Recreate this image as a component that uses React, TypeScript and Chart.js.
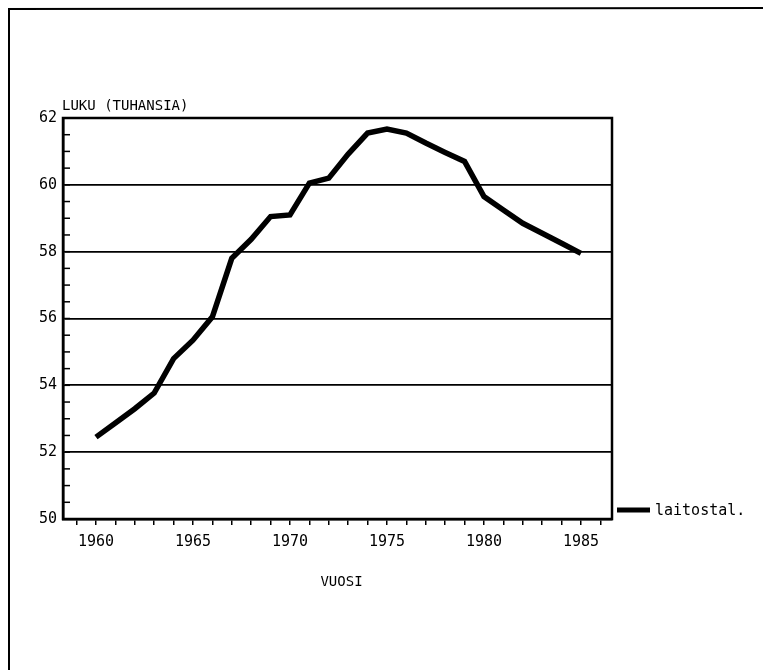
import React, { useEffect, useRef } from "react";
import { Chart, registerables } from "chart.js";

Chart.register(...registerables);

const years = [
  1960, 1961, 1962, 1963, 1964, 1965, 1966, 1967, 1968, 1969, 1970, 1971, 1972,
  1973, 1974, 1975, 1976, 1977, 1978, 1979, 1980, 1981, 1982, 1983, 1984, 1985,
];
const laitostal = [
  52.45, 52.87, 53.3, 53.77, 54.8, 55.35, 56.05, 57.8, 58.37, 59.05, 59.1, 60.05,
  60.2, 60.92, 61.55, 61.67, 61.55, 61.25, 60.97, 60.7, 59.65, 59.25, 58.85,
  58.55, 58.25, 57.95,
];
const seriesLabel = "laitostal.";
const yTitle = "LUKU (TUHANSIA)";
const xTitle = "VUOSI";
const yMajorTicks = [50, 52, 54, 56, 58, 60, 62];
const xLabelTicks = [1960, 1965, 1970, 1975, 1980, 1985];

const FONT = "'DejaVu Sans Mono', monospace";

const decorPlugin = {
  id: "decor",
  afterDraw(chart: any) {
    const { ctx, chartArea } = chart;
    const y = chart.scales.y;
    ctx.save();
    // inner minor ticks on left axis
    ctx.strokeStyle = "#000";
    ctx.lineWidth = 1.5;
    for (let v = y.min; v <= y.max + 1e-6; v += 0.5) {
      const py = y.getPixelForValue(v);
      ctx.beginPath();
      ctx.moveTo(chartArea.left, py);
      ctx.lineTo(chartArea.left + 7, py);
      ctx.stroke();
    }
    // plot frame
    ctx.lineWidth = 2.5;
    ctx.strokeRect(
      chartArea.left,
      chartArea.top,
      chartArea.right - chartArea.left,
      chartArea.bottom - chartArea.top
    );
    // titles
    ctx.fillStyle = "#000";
    ctx.font = `14px ${FONT}`;
    ctx.textAlign = "left";
    ctx.textBaseline = "alphabetic";
    ctx.fillText(yTitle, chartArea.left - 1, chartArea.top - 8);
    ctx.textAlign = "center";
    ctx.fillText(xTitle, (chartArea.left + chartArea.right) / 2 + 4, 586);
    // legend
    const ly = y.getPixelForValue(50) - 9;
    ctx.lineWidth = 5;
    ctx.beginPath();
    ctx.moveTo(chartArea.right + 5, ly);
    ctx.lineTo(chartArea.right + 38, ly);
    ctx.stroke();
    ctx.font = `15px ${FONT}`;
    ctx.textAlign = "left";
    ctx.textBaseline = "middle";
    ctx.fillText(seriesLabel, chartArea.right + 43, ly + 1);
    // outer page frame (top and left)
    ctx.lineWidth = 2;
    ctx.beginPath();
    ctx.moveTo(9, 670);
    ctx.lineTo(9, 9);
    ctx.lineTo(763, 8);
    ctx.stroke();
    ctx.restore();
  },
};

export default function App() {
  const ref = useRef<HTMLCanvasElement | null>(null);
  useEffect(() => {
    document.body.style.margin = "0";
    const canvas = ref.current!;
    const chart = new Chart(canvas, {
      type: "line",
      data: {
        datasets: [
          {
            label: seriesLabel,
            data: years.map((yr, i) => ({ x: yr, y: laitostal[i] })),
            borderColor: "#000",
            borderWidth: 5.5,
            pointRadius: 0,
            tension: 0,
            fill: false,
          },
        ],
      },
      options: {
        animation: false,
        responsive: false,
        maintainAspectRatio: false,
        layout: { padding: { top: 118, right: 151, left: 0, bottom: 0 } },
        plugins: { legend: { display: false }, tooltip: { enabled: false } },
        scales: {
          x: {
            type: "linear",
            min: 1958.3,
            max: 1986.6,
            afterFit(s: any) {
              s.height = 151;
            },
            border: { display: true, color: "#000", width: 2.5 },
            grid: {
              drawOnChartArea: false,
              drawTicks: true,
              tickLength: 6,
              color: "#000",
              lineWidth: 1.5,
            },
            ticks: {
              stepSize: 1,
              autoSkip: false,
              includeBounds: false,
              maxRotation: 0,
              padding: 8,
              color: "#000",
              font: { family: FONT, size: 15 },
              callback: (v: any) =>
                xLabelTicks.includes(Number(v)) ? String(v) : "",
            },
          },
          y: {
            type: "linear",
            min: 50,
            max: 62,
            afterFit(s: any) {
              s.width = 63;
            },
            border: { display: true, color: "#000", width: 2.5 },
            grid: {
              drawTicks: false,
              color: (c: any) =>
                yMajorTicks.includes(c.tick?.value) ? "#000" : "rgba(0,0,0,0)",
              lineWidth: 1.8,
            },
            ticks: {
              stepSize: 0.5,
              autoSkip: false,
              includeBounds: false,
              padding: 6,
              color: "#000",
              font: { family: FONT, size: 15 },
              callback: (v: any) =>
                yMajorTicks.includes(Number(v)) ? String(v) : "",
            },
          },
        },
      },
      plugins: [decorPlugin],
    });
    return () => chart.destroy();
  }, []);
  return (
    <div style={{ position: "absolute", left: 0, top: 0, width: 763, height: 670, background: "#fff" }}>
      <canvas ref={ref} width={763} height={670} style={{ display: "block" }} />
    </div>
  );
}
